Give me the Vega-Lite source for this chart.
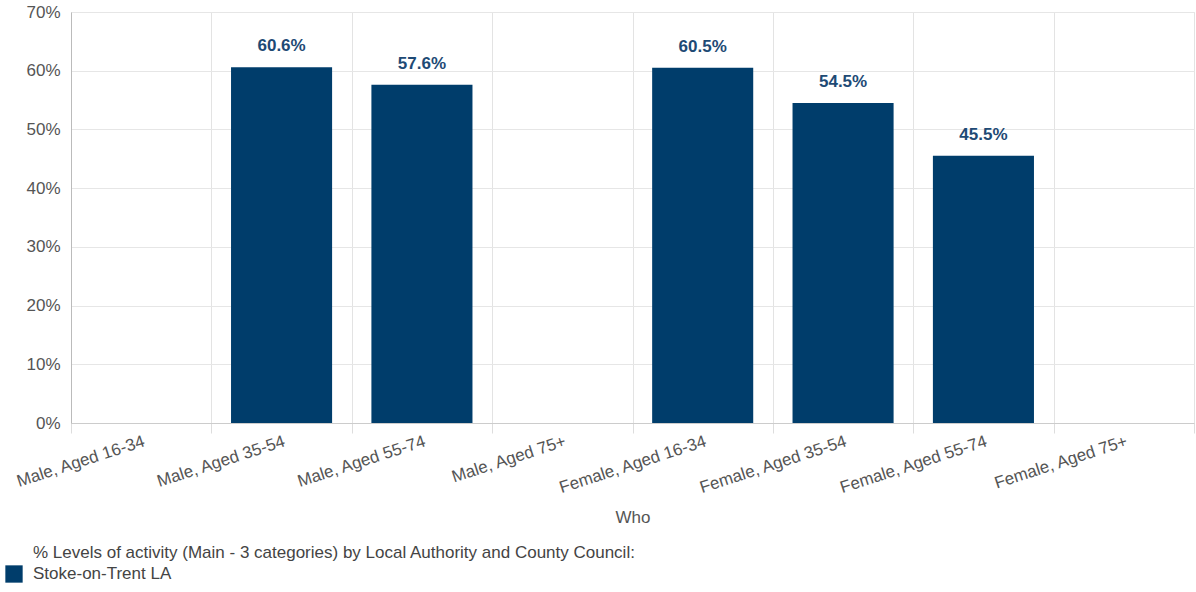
{
  "$schema": "https://vega.github.io/schema/vega-lite/v6.json",
  "width": 1123,
  "height": 411,
  "autosize": {"type": "none"},
  "padding": {"left": 71, "top": 12, "right": 2, "bottom": 169},
  "background": "white",
  "config": {
    "font": "Liberation Sans",
    "view": {"stroke": "#e0e0e0"}
  },
  "title": {
    "text": "% Levels of activity (Main - 3 categories) by Local Authority and County Council:",
    "orient": "bottom",
    "anchor": "start",
    "frame": "group",
    "dx": -38,
    "dy": -48,
    "offset": 10,
    "fontSize": 17,
    "fontWeight": "normal",
    "color": "#444444",
    "font": "Liberation Sans"
  },
  "data": {
    "values": [
      {"who": "Male, Aged 16-34", "value": null, "series": "Stoke-on-Trent LA"},
      {"who": "Male, Aged 35-54", "value": 60.6, "series": "Stoke-on-Trent LA"},
      {"who": "Male, Aged 55-74", "value": 57.6, "series": "Stoke-on-Trent LA"},
      {"who": "Male, Aged 75+", "value": null, "series": "Stoke-on-Trent LA"},
      {"who": "Female, Aged 16-34", "value": 60.5, "series": "Stoke-on-Trent LA"},
      {"who": "Female, Aged 35-54", "value": 54.5, "series": "Stoke-on-Trent LA"},
      {"who": "Female, Aged 55-74", "value": 45.5, "series": "Stoke-on-Trent LA"},
      {"who": "Female, Aged 75+", "value": null, "series": "Stoke-on-Trent LA"}
    ]
  },
  "encoding": {
    "x": {
      "field": "who",
      "type": "nominal",
      "sort": null,
      "scale": {
        "domain": ["Male, Aged 16-34", "Male, Aged 35-54", "Male, Aged 55-74", "Male, Aged 75+", "Female, Aged 16-34", "Female, Aged 35-54", "Female, Aged 55-74", "Female, Aged 75+"],
        "paddingInner": 0,
        "paddingOuter": 0
      },
      "axis": {
        "title": "Who",
        "titleFontSize": 17,
        "titleFontWeight": "normal",
        "titleColor": "#555555",
        "titlePadding": 14,
        "labelAngle": -18,
        "labelAlign": "right",
        "labelBaseline": "top",
        "labelFontSize": 17,
        "labelColor": "#555555",
        "labelPadding": 0,
        "tickBand": "extent",
        "tickSize": 10,
        "tickColor": "#dddddd",
        "grid": true,
        "gridColor": "#e3e3e3",
        "domainColor": "#cccccc",
        "labelOverlap": false
      }
    },
    "y": {
      "field": "value",
      "type": "quantitative",
      "scale": {"domain": [0, 70]},
      "axis": {
        "title": null,
        "values": [0, 10, 20, 30, 40, 50, 60, 70],
        "labelExpr": "datum.value + '%'",
        "labelFontSize": 17,
        "labelColor": "#555555",
        "labelPadding": 11,
        "ticks": false,
        "grid": true,
        "gridColor": "#e6e6e6",
        "domain": true,
        "domainColor": "#bbbbbb"
      }
    }
  },
  "layer": [
    {
      "mark": {"type": "bar", "width": {"band": 0.72}},
      "encoding": {
        "color": {
          "field": "series",
          "type": "nominal",
          "scale": {"range": ["#003d6b"]},
          "legend": {
            "orient": "none",
            "legendX": -66,
            "legendY": 553,
            "title": null,
            "symbolType": "square",
            "symbolSize": 300,
            "symbolStrokeWidth": 0,
            "symbolOpacity": 1,
            "labelFontSize": 17,
            "labelColor": "#444444",
            "labelOffset": 10,
            "padding": 0
          }
        }
      }
    },
    {
      "transform": [{"filter": "datum.value != null"}, {"calculate": "format(datum.value, '.1f') + '%'", "as": "lab"}],
      "mark": {"type": "text", "baseline": "bottom", "dy": -12, "fontSize": 17, "fontWeight": "bold", "color": "#1e4a75"},
      "encoding": {
        "text": {"field": "lab", "type": "nominal"}
      }
    }
  ]
}
